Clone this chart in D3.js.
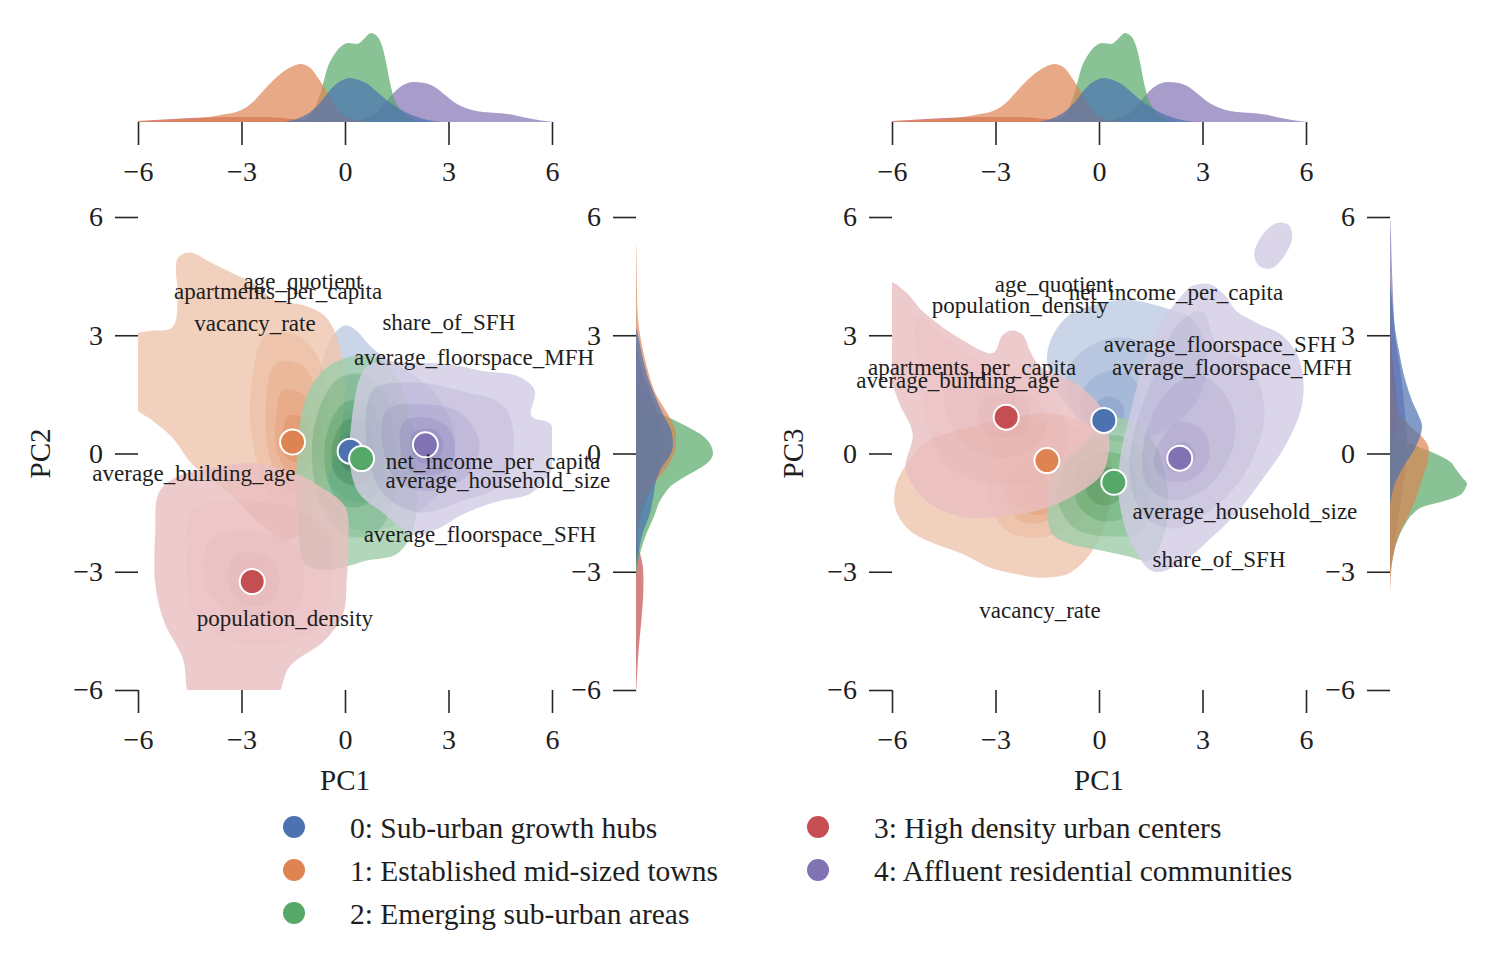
<!DOCTYPE html>
<html>
<head>
<meta charset="utf-8">
<script src="https://cdnjs.cloudflare.com/ajax/libs/d3/7.8.5/d3.min.js"></script>
<style>
body { margin: 0; background: #fff; }
text { font-family: "Liberation Serif", "Times New Roman", serif; fill: #1e1e1e; }
</style>
</head>
<body>
<div class="chart"></div>
<script>
/*---------------------------DATA--------------------------*/

var clusterNames = ['0: Sub-urban growth hubs', '1: Established mid-sized towns', '2: Emerging sub-urban areas',
	'3: High density urban centers', '4: Affluent residential communities'];
var clusterColors = ['#4C72B0', '#DD8452', '#55A868', '#C44E52', '#8172B3'];
var axisTicks = [-6, -3, 0, 3, 6];

// cluster centres
var centroidsPC12 = [[0.15, 0.06], [-1.52, 0.29], [0.48, -0.13], [-2.69, -3.25], [2.33, 0.22]];
var centroidsPC13 = [[0.14, 0.84], [-1.51, -0.18], [0.43, -0.73], [-2.69, 0.92], [2.34, -0.12]];

// loading labels
var loadingNames = ['age_quotient', 'apartments_per_capita', 'vacancy_rate', 'share_of_SFH', 'average_floorspace_MFH',
	'average_building_age', 'net_income_per_capita', 'average_household_size', 'average_floorspace_SFH', 'population_density'];
var loadingsPC12 = [[-1.22, 4.36], [-1.94, 4.11], [-2.61, 3.30], [3.01, 3.32], [3.74, 2.44],
	[-4.38, -0.51], [4.29, -0.20], [4.43, -0.68], [3.91, -2.05], [-1.74, -4.19]];
var loadingsPC13 = [[-1.30, 4.29], [-3.68, 2.18], [-1.71, -3.98], [3.48, -2.69], [3.86, 2.18],
	[-4.09, 1.85], [2.23, 4.08], [4.23, -1.47], [3.51, 2.77], [-2.29, 3.75]];

// marginal densities [pc, density], one per cluster
var kdePC1 = [
	[[-1.8,0],[-1.5,0.002],[-1.2,0.006],[-0.9,0.013],[-0.7,0.02],[-0.35,0.035],[0,0.043],[0.15,0.044],[0.4,0.042],[0.65,0.038],[0.9,0.031],[1.2,0.022],[1.5,0.015],[1.8,0.009],[2.1,0.005],[2.4,0.002],[2.8,0]],
	[[-6,0.0005],[-5,0.002],[-4.2,0.004],[-3.6,0.007],[-3.0,0.012],[-2.7,0.019],[-2.4,0.03],[-2.1,0.041],[-1.8,0.05],[-1.5,0.056],[-1.3,0.058],[-1.0,0.054],[-0.8,0.045],[-0.5,0.029],[-0.3,0.017],[-0.1,0.008],[0.2,0.003],[0.5,0.001],[0.8,0]],
	[[-1.4,0],[-1.1,0.004],[-0.9,0.012],[-0.7,0.03],[-0.5,0.055],[-0.3,0.068],[-0.1,0.076],[0.1,0.079],[0.35,0.078],[0.55,0.083],[0.75,0.089],[0.95,0.085],[1.1,0.073],[1.2,0.058],[1.3,0.04],[1.4,0.026],[1.55,0.015],[1.75,0.007],[2.0,0.002],[2.3,0]],
	[[-6,0.001],[-5.5,0.002],[-5,0.003],[-4.5,0.004],[-4,0.0045],[-3.5,0.005],[-3,0.005],[-2.5,0.005],[-2,0.0045],[-1.5,0.003],[-1,0.0015],[-0.5,0.0005],[0,0]],
	[[0,0],[0.5,0.003],[1.0,0.012],[1.3,0.025],[1.6,0.035],[2.0,0.04],[2.3,0.039],[2.6,0.035],[2.9,0.027],[3.2,0.019],[3.5,0.014],[3.8,0.011],[4.2,0.0095],[4.6,0.0085],[4.9,0.007],[5.2,0.0045],[5.6,0.002],[6.0,0.0002]]
];
var kdePC2 = [
	[[-2.8,0],[-2.45,0.003],[-2.0,0.007],[-1.6,0.013],[-1.0,0.018],[-0.7,0.02],[-0.35,0.026],[0,0.035],[0.2,0.037],[0.5,0.036],[1.0,0.027],[1.34,0.021],[2.0,0.011],[2.5,0.006],[2.9,0.003],[3.2,0]],
	[[-2.5,0],[-2.0,0.0015],[-1.4,0.005],[-1.0,0.012],[-0.7,0.02],[-0.35,0.031],[0,0.038],[0.2,0.04],[0.5,0.04],[0.9,0.034],[1.2,0.027],[1.5,0.02],[2.0,0.013],[2.5,0.008],[3.0,0.004],[3.4,0.002],[4.0,0.001],[5.0,0.0005],[5.4,0]],
	[[-3.2,0],[-2.9,0.001],[-2.45,0.005],[-2.0,0.011],[-1.6,0.018],[-1.2,0.024],[-1.0,0.029],[-0.8,0.036],[-0.6,0.048],[-0.4,0.062],[-0.2,0.073],[0,0.077],[0.25,0.074],[0.5,0.064],[0.7,0.05],[0.9,0.034],[1.1,0.018],[1.4,0.006],[1.8,0]],
	[[-6.1,0],[-5.9,0.0005],[-5.2,0.002],[-4.6,0.004],[-4.2,0.0055],[-3.7,0.007],[-3.3,0.0075],[-2.9,0.007],[-2.3,0.002],[-1.8,0]],
	[[-2.2,0],[-1.7,0.004],[-1.2,0.01],[-0.7,0.018],[-0.2,0.025],[0.3,0.027],[0.8,0.024],[1.3,0.018],[1.8,0.01],[2.3,0.004],[2.8,0]]
];
var kdePC3 = [
	[[-1.3,0],[-1.0,0.002],[-0.7,0.006],[-0.35,0.013],[0,0.022],[0.3,0.028],[0.5,0.031],[0.7,0.032],[1.0,0.028],[1.34,0.022],[1.8,0.016],[2.2,0.012],[2.6,0.009],[3.0,0.006],[3.4,0.004],[3.9,0.002],[4.3,0]],
	[[-3.6,0],[-2.8,0.002],[-2.4,0.005],[-2.0,0.01],[-1.6,0.018],[-1.2,0.025],[-0.9,0.029],[-0.5,0.034],[-0.2,0.038],[0.1,0.039],[0.4,0.033],[0.7,0.02],[1.0,0.01],[1.5,0.004],[2.0,0.002],[3.0,0.001],[4.0,0.0005],[4.6,0]],
	[[-3.2,0],[-2.9,0.001],[-2.5,0.004],[-2.1,0.009],[-1.8,0.015],[-1.5,0.024],[-1.35,0.033],[-1.2,0.055],[-1.05,0.07],[-0.9,0.075],[-0.77,0.077],[-0.6,0.072],[-0.4,0.066],[-0.2,0.06],[0,0.045],[0.2,0.025],[0.4,0.008],[0.6,0]],
	[[-1.5,0],[-1.0,0.001],[-0.5,0.003],[0,0.005],[0.5,0.006],[1.0,0.007],[1.5,0.006],[2.0,0.004],[2.5,0.002],[3.0,0]],
	[[-3.0,0],[-2.5,0.003],[-1.8,0.007],[-1.0,0.012],[-0.3,0.016],[0.3,0.017],[1.0,0.015],[2.0,0.011],[3.0,0.005],[4.0,0.003],[5.0,0.0015],[5.8,0.0005],[6.0,0]]
];

// density contour outlines (outer level first), PC1 x PC2
var contoursPC12 = [
	[ // 0
		[[-0.6,2.5],[-0.3,3.05],[0.0,3.25],[0.35,3.1],[0.7,2.75],[1.2,2.4],[2.0,2.0],[2.8,1.3],[3.2,0.3],[2.9,-0.8],[2.1,-1.5],[1.1,-1.9],[0.2,-1.9],[-0.6,-1.4],[-0.9,-0.4],[-0.9,1.0]],
		[[-0.6,1.5],[0.3,2.0],[1.3,1.5],[2.0,0.6],[1.8,-0.6],[0.9,-1.2],[-0.1,-1.1],[-0.7,-0.3]],
		[[-0.3,0.9],[0.4,1.1],[1.1,0.6],[1.1,-0.4],[0.5,-0.8],[-0.2,-0.6],[-0.45,0.1]],
		[[-0.1,0.45],[0.4,0.55],[0.7,0.1],[0.5,-0.35],[0.0,-0.35],[-0.2,0.05]]
	],
	[ // 1
		[[-4.85,4.95],[-4.5,5.1],[-3.9,4.85],[-3.2,4.55],[-2.6,4.3],[-2.05,3.9],[-1.15,3.75],[-0.6,3.5],[-0.3,3.1],[-0.1,2.5],[0.0,1.5],[-0.2,0.3],[-0.6,-0.9],[-1.1,-1.9],[-1.7,-2.2],[-2.5,-1.75],[-3.3,-1.05],[-4.4,-0.3],[-5.0,0.4],[-5.6,0.85],[-6.1,1.2],[-6.1,3.0],[-5.7,3.1],[-5.0,3.2],[-4.85,3.9]],
		[[-2.3,3.0],[-1.4,3.0],[-0.7,2.3],[-0.5,1.0],[-0.6,-0.3],[-1.0,-1.2],[-1.7,-1.5],[-2.3,-0.8],[-2.7,0.4],[-2.7,1.8]],
		[[-2.0,2.3],[-1.2,2.2],[-0.75,1.2],[-0.75,0.0],[-1.1,-0.8],[-1.7,-1.0],[-2.15,-0.2],[-2.3,1.0]],
		[[-1.8,1.6],[-1.2,1.5],[-0.9,0.7],[-1.0,-0.3],[-1.5,-0.6],[-1.95,0.0],[-2.0,0.9]],
		[[-1.65,0.95],[-1.2,0.9],[-1.05,0.3],[-1.3,-0.2],[-1.7,-0.1],[-1.8,0.4]]
	],
	[ // 2
		[[-0.05,2.4],[0.6,2.5],[1.3,2.2],[1.75,1.4],[2.0,0.2],[2.1,-1.0],[1.95,-2.0],[1.5,-2.55],[0.6,-2.72],[0.1,-2.85],[-0.6,-2.95],[-1.2,-2.75],[-1.35,-1.8],[-1.4,-0.8],[-1.35,0.5],[-1.05,1.6],[-0.5,2.2]],
		[[-0.2,1.9],[0.6,2.0],[1.2,1.4],[1.45,0.2],[1.4,-1.2],[0.9,-2.0],[0.1,-2.1],[-0.6,-1.5],[-0.95,-0.3],[-0.8,1.0]],
		[[0.0,1.3],[0.7,1.3],[1.1,0.5],[1.1,-0.8],[0.6,-1.3],[-0.1,-1.3],[-0.55,-0.5],[-0.5,0.6]],
		[[0.05,0.85],[0.6,0.8],[0.85,0.1],[0.7,-0.6],[0.2,-0.8],[-0.3,-0.5],[-0.35,0.3]],
		[[0.1,0.45],[0.5,0.4],[0.6,-0.1],[0.4,-0.45],[0.0,-0.4],[-0.15,0.05]]
	],
	[ // 3
		[[-5.4,-1.0],[-4.9,-0.6],[-3.8,-0.35],[-2.7,-0.25],[-1.6,-0.45],[-0.7,-0.85],[0.0,-1.35],[0.1,-2.3],[0.05,-3.2],[-0.05,-4.05],[-0.6,-4.75],[-1.6,-5.4],[-2.1,-6.3],[-4.4,-6.3],[-4.7,-5.2],[-5.25,-4.25],[-5.5,-3.3],[-5.5,-2.0]],
		[[-4.4,-1.4],[-3.0,-1.2],[-1.5,-1.4],[-0.5,-2.0],[-0.4,-3.3],[-0.8,-4.4],[-1.8,-4.8],[-3.2,-4.8],[-4.3,-4.2],[-4.6,-2.8]],
		[[-3.8,-2.1],[-2.5,-2.0],[-1.4,-2.4],[-1.2,-3.5],[-1.8,-4.2],[-3.0,-4.2],[-3.9,-3.6],[-4.1,-2.8]],
		[[-3.2,-2.6],[-2.3,-2.6],[-1.9,-3.2],[-2.2,-3.8],[-3.0,-3.8],[-3.4,-3.2]]
	],
	[ // 4
		[[0.5,2.05],[0.85,2.3],[2.0,2.3],[3.1,2.25],[3.95,2.1],[5.05,1.95],[5.5,1.6],[5.4,0.95],[5.95,0.75],[6.1,0.15],[6.05,-0.3],[5.4,-1.0],[4.5,-1.2],[3.95,-1.35],[3.4,-1.55],[2.6,-1.95],[1.95,-2.05],[1.1,-1.5],[0.4,-1.0],[0.15,-0.3],[0.2,0.9]],
		[[0.8,1.6],[2.0,1.8],[3.3,1.6],[4.6,1.2],[4.9,0.2],[4.5,-0.8],[3.4,-1.2],[2.2,-1.5],[1.2,-1.1],[0.7,-0.2]],
		[[1.2,1.1],[2.3,1.25],[3.4,1.0],[3.9,0.2],[3.5,-0.6],[2.4,-0.95],[1.5,-0.7],[1.1,0.2]],
		[[1.7,0.8],[2.5,0.9],[3.1,0.5],[3.1,-0.3],[2.5,-0.55],[1.8,-0.4],[1.6,0.2]],
		[[2.0,0.55],[2.6,0.6],[2.85,0.2],[2.6,-0.2],[2.1,-0.2],[1.9,0.2]]
	]
];

// density contour outlines, PC1 x PC3
var contoursPC13 = [
	[ // 0
		[[-1.5,2.3],[-1.45,2.75],[-1.2,3.2],[-0.8,3.55],[0.0,3.8],[0.8,3.9],[1.9,3.7],[2.7,3.4],[3.1,2.6],[3.0,1.6],[2.3,0.8],[1.4,0.4],[0.6,0.3],[-0.2,0.5],[-0.9,1.2],[-1.3,1.7]],
		[[-0.8,2.3],[0.2,2.9],[1.3,2.8],[2.0,2.0],[1.6,1.0],[0.6,0.5],[-0.3,0.7],[-0.9,1.4]],
		[[-0.4,1.7],[0.3,2.1],[1.0,1.9],[1.2,1.2],[0.7,0.6],[0.0,0.6],[-0.5,1.0]],
		[[-0.15,1.2],[0.3,1.45],[0.7,1.2],[0.6,0.7],[0.1,0.6],[-0.2,0.85]]
	],
	[ // 1
		[[-5.0,0.3],[-5.6,-0.3],[-5.9,-0.85],[-5.9,-1.4],[-5.55,-1.9],[-5.0,-2.2],[-3.95,-2.55],[-3.15,-2.9],[-2.45,-3.05],[-1.7,-3.15],[-0.9,-3.05],[-0.35,-2.65],[0.1,-2.0],[0.35,-1.0],[0.3,0.0],[-0.3,0.7],[-1.3,1.0],[-2.6,0.9],[-4.0,0.6]],
		[[-3.0,0.3],[-1.8,0.8],[-0.5,0.6],[0.2,0.0],[0.25,-0.9],[-0.4,-1.6],[-1.5,-2.1],[-2.6,-2.0],[-3.2,-1.2]],
		[[-2.5,-0.4],[-1.6,0.1],[-0.8,-0.2],[-0.9,-1.0],[-1.5,-1.7],[-2.3,-1.7],[-2.7,-1.1]],
		[[-2.2,-0.8],[-1.6,-0.6],[-1.3,-1.0],[-1.5,-1.5],[-2.1,-1.5],[-2.4,-1.1]]
	],
	[ // 2
		[[-1.45,-0.9],[-1.2,-0.3],[-0.4,0.3],[0.2,0.95],[0.6,0.9],[1.2,0.7],[1.7,0.1],[2.0,-1.0],[1.9,-2.0],[1.5,-2.7],[0.8,-2.6],[0.0,-2.45],[-0.8,-2.3],[-1.35,-2.05],[-1.5,-1.5]],
		[[-1.1,-0.5],[-0.3,0.3],[0.6,0.45],[1.3,0.0],[1.5,-1.1],[1.2,-2.0],[0.3,-2.1],[-0.7,-1.9],[-1.2,-1.2]],
		[[-0.7,-0.5],[0.0,0.0],[0.8,-0.1],[1.1,-0.9],[0.8,-1.6],[0.0,-1.7],[-0.6,-1.3]],
		[[-0.3,-0.6],[0.3,-0.35],[0.7,-0.7],[0.55,-1.2],[0.0,-1.3],[-0.35,-1.0]]
	],
	[ // 3
		[[-6.1,4.35],[-5.6,4.1],[-5.1,3.6],[-3.95,2.87],[-3.07,2.55],[-2.8,3.0],[-2.5,3.12],[-2.2,3.0],[-2.0,2.6],[-1.7,2.2],[-1.2,2.0],[-0.55,1.7],[0.1,1.1],[0.3,0.3],[0.1,-0.5],[-0.6,-1.0],[-1.6,-1.4],[-2.8,-1.6],[-4.0,-1.6],[-5.0,-1.2],[-5.6,-0.4],[-5.4,0.5],[-5.8,1.3],[-6.1,2.2]],
		[[-5.3,3.5],[-4.5,3.0],[-3.4,2.3],[-2.3,2.1],[-1.4,1.4],[-0.9,0.5],[-1.2,-0.3],[-2.2,-0.8],[-3.5,-0.7],[-4.5,-0.2],[-5.0,0.8],[-5.2,2.0]],
		[[-4.3,2.3],[-3.2,1.8],[-2.0,1.5],[-1.5,0.8],[-1.9,0.1],[-3.0,-0.1],[-4.0,0.3],[-4.5,1.3]],
		[[-3.3,1.45],[-2.4,1.45],[-2.0,1.0],[-2.3,0.5],[-3.1,0.45],[-3.5,0.9]]
	],
	[ // 4
		[[0.6,-0.2],[0.9,1.0],[1.3,2.3],[1.8,3.3],[2.3,3.9],[2.7,4.25],[3.2,4.3],[3.6,4.05],[4.0,3.6],[4.6,3.3],[5.3,3.0],[5.8,2.4],[5.9,1.3],[5.4,0.2],[4.7,-0.7],[4.0,-1.5],[3.3,-2.1],[2.5,-2.7],[1.6,-3.0],[1.0,-2.4],[0.6,-1.3]],
		[[1.0,0.5],[1.6,2.0],[2.3,3.3],[3.0,3.6],[3.4,2.8],[4.4,2.2],[4.8,1.0],[4.3,-0.4],[3.3,-1.4],[2.2,-1.9],[1.3,-1.6],[0.9,-0.6]],
		[[1.3,0.3],[2.0,1.6],[2.9,2.0],[3.8,1.3],[3.9,0.2],[3.2,-0.8],[2.2,-1.2],[1.4,-0.8]],
		[[1.7,0.2],[2.3,0.8],[3.0,0.6],[3.2,-0.1],[2.8,-0.6],[2.0,-0.7],[1.6,-0.3]],
		[[2.0,0.1],[2.5,0.3],[2.8,0.0],[2.6,-0.4],[2.1,-0.45],[1.9,-0.15]]
	]
];
// detached outer patch of cluster 4 in PC1 x PC3
var purpleLobePC13 = [[5.15,5.85],[5.5,5.8],[5.6,5.5],[5.4,5.05],[5.0,4.7],[4.65,4.75],[4.5,5.05],[4.7,5.5]];

/*---------------------------LAYOUT--------------------------*/

var w = 1500, h = 970;
var plotTop = 217, plotBottom = 690, plotWidth = 414;
var margTop = 122, tickLen = 23;

// shade position (0 = lightest) of each nested level, per cluster
var shadesPC12 = [[0, 0.25, 0.45, 0.65], [0.1, 0.22, 0.34, 0.46, 0.6], [0.2, 0.38, 0.56, 0.74, 0.92], [0, 0.03, 0.06, 0.09], [0, 0.12, 0.24, 0.36, 0.48]];
var shadesPC13 = [[0, 0.12, 0.24, 0.36], [0.1, 0.22, 0.35, 0.48], [0.2, 0.38, 0.56, 0.74], [0, 0.03, 0.06, 0.09], [0, 0.1, 0.2, 0.3, 0.4]];

var panels = [
	{ x0: 138, yName: 'PC2', yLabelX: 40, margX: 636, centroids: centroidsPC12, loadings: loadingsPC12, contours: contoursPC12, shades: shadesPC12, kdeY: kdePC2, extra: null },
	{ x0: 892, yName: 'PC3', yLabelX: 793, margX: 1390, centroids: centroidsPC13, loadings: loadingsPC13, contours: contoursPC13, shades: shadesPC13, kdeY: kdePC3, extra: purpleLobePC13 }
];

var svg = d3.select('.chart').append('svg')
	.attr('width', w)
	.attr('height', h);

// tint of the cluster colour for light levels, darker shade past the base
var levelColor = function(base, t) {
	var f = 0.36 + t;
	if (f <= 1) return d3.interpolateRgb('#ffffff', base)(f);
	return d3.interpolateRgb(base, d3.color(base).darker(1.1))((f - 1) / 0.5);
};

var fmt = function(d) { return d < 0 ? '\u2212' + Math.abs(d) : d; };

var styleAxis = function(g, fontSize) {
	g.select('.domain').remove();
	g.selectAll('.tick line').attr('stroke', '#262626').attr('stroke-width', 1.6);
	g.selectAll('.tick text').attr('font-size', fontSize).attr('fill', '#1e1e1e')
		.style('font-family', '"Liberation Serif", "Times New Roman", serif');
};

var drawPanel = function(p, idx) {
	var x = d3.scaleLinear().domain([-6, 6]).range([p.x0, p.x0 + plotWidth]);
	var y = d3.scaleLinear().domain([-6, 6]).range([plotBottom, plotTop]);
	var dens = d3.scaleLinear().domain([0, 0.1]).range([0, 100]);

	/*-----------------------MAIN CONTOURS--------------------------*/
	svg.append('clipPath').attr('id', 'clip' + idx)
		.append('rect')
		.attr('x', p.x0).attr('y', plotTop)
		.attr('width', plotWidth).attr('height', plotBottom - plotTop);

	var line = d3.line()
		.x(function(d) { return x(d[0]); })
		.y(function(d) { return y(d[1]); })
		.curve(d3.curveCatmullRomClosed.alpha(0.5));

	var plot = svg.append('g').attr('clip-path', 'url(#clip' + idx + ')');

	p.contours.forEach(function(levels, ci) {
		var g = plot.append('g').attr('opacity', 0.82);
		levels.forEach(function(ring, li) {
			g.append('path')
				.attr('d', line(ring))
				.attr('fill', levelColor(clusterColors[ci], p.shades[ci][li]));
		});
		if (ci === 4 && p.extra) {
			g.append('path')
				.attr('d', line(p.extra))
				.attr('fill', levelColor(clusterColors[ci], 0));
		}
	});

	plot.selectAll('.centroid').data(p.centroids)
		.enter().append('circle')
		.attr('class', 'centroid')
		.attr('cx', function(d) { return x(d[0]); })
		.attr('cy', function(d) { return y(d[1]); })
		.attr('r', 12.5)
		.attr('fill', function(d, i) { return clusterColors[i]; })
		.attr('stroke', '#fff')
		.attr('stroke-width', 2);

	svg.append('g').selectAll('text').data(p.loadings)
		.enter().append('text')
		.attr('x', function(d) { return x(d[0]); })
		.attr('y', function(d) { return y(d[1]); })
		.attr('text-anchor', 'middle')
		.attr('dominant-baseline', 'central')
		.attr('font-size', 23)
		.text(function(d, i) { return loadingNames[i]; });

	/*-----------------------MARGINALS--------------------------*/
	var topArea = d3.area()
		.x(function(d) { return x(d[0]); })
		.y0(margTop)
		.y1(function(d) { return margTop - dens(d[1]); })
		.curve(d3.curveMonotoneX);

	var rightArea = d3.area()
		.y(function(d) { return y(d[0]); })
		.x0(p.margX)
		.x1(function(d) { return p.margX + dens(d[1]); })
		.curve(d3.curveMonotoneY);

	var order = [4, 3, 2, 1, 0];
	order.forEach(function(ci) {
		svg.append('path')
			.attr('d', topArea(kdePC1[ci]))
			.attr('fill', clusterColors[ci])
			.attr('fill-opacity', 0.7);
		svg.append('path')
			.attr('d', rightArea(p.kdeY[ci].slice().reverse()))
			.attr('fill', clusterColors[ci])
			.attr('fill-opacity', 0.7);
	});

	/*-----------------------AXES--------------------------*/
	var gx = svg.append('g')
		.attr('transform', 'translate(0,' + plotBottom + ')')
		.call(d3.axisBottom(x).tickValues(axisTicks).tickSize(tickLen).tickPadding(16).tickFormat(fmt));
	styleAxis(gx, 28);

	var gy = svg.append('g')
		.attr('transform', 'translate(' + p.x0 + ',0)')
		.call(d3.axisLeft(y).tickValues(axisTicks).tickSize(tickLen).tickPadding(12).tickFormat(fmt));
	styleAxis(gy, 28);

	var gt = svg.append('g')
		.attr('transform', 'translate(0,' + margTop + ')')
		.call(d3.axisBottom(x).tickValues(axisTicks).tickSize(tickLen).tickPadding(16).tickFormat(fmt));
	styleAxis(gt, 28);

	var gr = svg.append('g')
		.attr('transform', 'translate(' + p.margX + ',0)')
		.call(d3.axisLeft(y).tickValues(axisTicks).tickSize(tickLen).tickPadding(12).tickFormat(fmt));
	styleAxis(gr, 28);

	svg.append('text')
		.attr('x', x(0))
		.attr('y', 790)
		.attr('text-anchor', 'middle')
		.attr('font-size', 29)
		.text('PC1');

	svg.append('text')
		.attr('transform', 'translate(' + p.yLabelX + ',' + y(0) + ') rotate(-90)')
		.attr('text-anchor', 'middle')
		.attr('dominant-baseline', 'central')
		.attr('font-size', 29)
		.text(p.yName);
};

panels.forEach(drawPanel);

/*---------------------------LEGEND--------------------------*/
var legendCols = [294, 818];
var legendRows = [827, 870, 913];

var legend = svg.append('g').selectAll('g').data(clusterNames)
	.enter().append('g')
	.attr('transform', function(d, i) {
		return 'translate(' + legendCols[i < 3 ? 0 : 1] + ',' + legendRows[i < 3 ? i : i - 3] + ')';
	});

legend.append('circle')
	.attr('r', 11)
	.attr('fill', function(d, i) { return clusterColors[i]; });

legend.append('text')
	.attr('x', 56)
	.attr('y', 11)
	.attr('font-size', 29.5)
	.text(function(d) { return d; });
</script>
</body>
</html>
